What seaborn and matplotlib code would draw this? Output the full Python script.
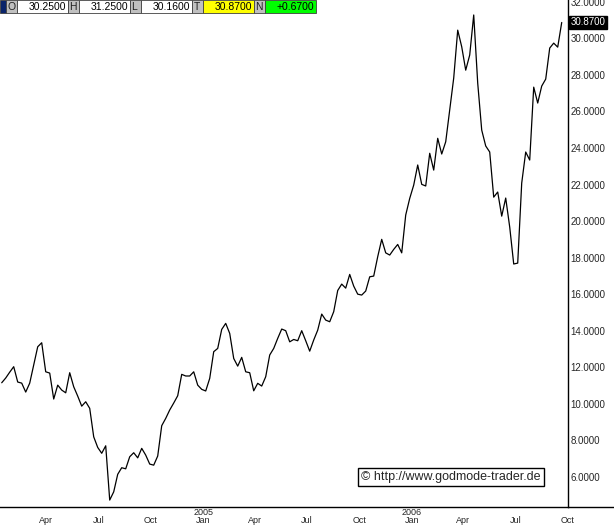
import pandas as pd
import matplotlib.pyplot as plt
import matplotlib.transforms as mtransforms
from matplotlib.patches import Rectangle
import seaborn as sns

# weekly closes (Jan 2004 - Sep 2006)
start_date = '2004-01-14'
kurs = [11.15, 11.41, 11.73, 12.03, 11.19, 11.13, 10.64, 11.13, 12.12, 13.12,
        13.34, 11.75, 11.68, 10.26, 11.02, 10.75, 10.60, 11.70, 10.93, 10.42,
        9.87, 10.11, 9.75, 8.19, 7.61, 7.29, 7.70, 4.73, 5.18, 6.14,
        6.50, 6.44, 7.10, 7.32, 7.04, 7.56, 7.19, 6.70, 6.64, 7.14,
        8.80, 9.20, 9.66, 10.04, 10.44, 11.61, 11.52, 11.52, 11.75, 11.02,
        10.79, 10.70, 11.39, 12.85, 13.03, 14.07, 14.40, 13.85, 12.48, 12.06,
        12.54, 11.75, 11.70, 10.71, 11.12, 10.97, 11.48, 12.67, 13.03, 13.58,
        14.09, 14.00, 13.39, 13.52, 13.45, 14.00, 13.45, 12.88, 13.49, 14.03,
        14.91, 14.58, 14.49, 15.04, 16.20, 16.55, 16.33, 17.08, 16.44, 16.00,
        15.95, 16.17, 16.95, 16.99, 18.05, 19.00, 18.26, 18.14, 18.45, 18.72,
        18.26, 20.33, 21.24, 21.97, 23.07, 22.01, 21.92, 23.71, 22.79, 24.53,
        23.67, 24.34, 26.08, 27.83, 30.45, 29.54, 28.26, 29.09, 31.28, 27.55,
        24.98, 24.11, 23.78, 21.31, 21.59, 20.27, 21.26, 19.67, 17.65, 17.70,
        22.08, 23.78, 23.34, 27.33, 26.46, 27.39, 27.77, 29.47, 29.74, 29.52,
        30.87]

# header quote values
kopf_namen = ['O', 'H', 'L', 'T', 'N']
kopf_werte = ['30.2500', '31.2500', '30.1600', '30.8700', '+0.6700']
kopf_farben = ['white', 'white', 'white', '#ffff00', '#00ff00']

y_ticks = list(range(6, 33, 2))
copyright_text = '\u00a9 http://www.godmode-trader.de'

df = pd.DataFrame({'Datum': pd.date_range(start_date, periods=len(kurs), freq='7D'),
                   'Kurs': kurs})

sns.set_style('white')
plt.rcParams['font.family'] = ['Liberation Sans', 'DejaVu Sans']

W, H = 614, 525
fig = plt.figure(figsize=(W / 100, H / 100), dpi=100)
ax = fig.add_axes([0, 18 / H, 568 / W, 507 / H])

sns.lineplot(data=df, x='Datum', y='Kurs', color='black', lw=0.9, ax=ax)

ax.set_xlim(pd.Timestamp('2004-01-11'), pd.Timestamp('2006-10-01'))
ax.set_ylim(4.35, 32.1)
ax.set_xlabel('')
ax.set_ylabel('')

# right hand price axis
ax.yaxis.tick_right()
ax.set_yticks(y_ticks)
ax.set_yticklabels(['%.4f' % v for v in y_ticks], fontsize=7)
ax.tick_params(axis='y', length=0, pad=2)

# quarterly month labels, year above January
ticks = pd.date_range('2004-04-01', '2006-10-01', freq='QS')
labels = [(str(t.year) + '\nJan') if t.month == 1 else '\n' + t.strftime('%b') for t in ticks]
ax.set_xticks(ticks)
ax.set_xticklabels(labels, fontsize=6.5)
ax.tick_params(axis='x', length=0, pad=1)
plt.setp(ax.get_xticklabels(), linespacing=0.85)

for s in ['top', 'left']:
    ax.spines[s].set_visible(False)
for s in ['bottom', 'right']:
    ax.spines[s].set_color('black')
    ax.spines[s].set_linewidth(1.0)
# bottom line continues under the price scale
fig.add_artist(plt.Line2D([568 / W, 1], [18 / H, 18 / H], color='black', lw=1.0,
                          transform=fig.transFigure))

# current value marker on the price axis
trans = mtransforms.blended_transform_factory(ax.transAxes, ax.transData)
ax.text(1.005, kurs[-1], '%.4f' % kurs[-1], transform=trans, fontsize=7, color='white',
        va='center', ha='left', clip_on=False,
        bbox=dict(boxstyle='square,pad=0.15', fc='black', ec='black'))

# quote header bar
def box(x, w, color):
    fig.add_artist(Rectangle((x / W, 1 - 13 / H), w / W, 13 / H, transform=fig.transFigure,
                             facecolor=color, edgecolor='#404040', lw=0.6))

box(0, 6, '#0a246a')
x = 6
for name, wert, farbe in zip(kopf_namen, kopf_werte, kopf_farben):
    box(x, 11, '#c0c0c0')
    fig.text((x + 1.5) / W, 1 - 6.5 / H, name, fontsize=7.5, va='center', ha='left', color='#202020')
    box(x + 11, 51, farbe)
    fig.text((x + 60) / W, 1 - 6.5 / H, wert, fontsize=7.5, va='center', ha='right', color='black')
    x += 62

# copyright note
fig.text(451 / W, 1 - 477 / H, copyright_text, fontsize=9, ha='center', va='center',
         bbox=dict(boxstyle='square,pad=0.25', fc='white', ec='black', lw=1.0))

fig.savefig('out.png', dpi=100)
